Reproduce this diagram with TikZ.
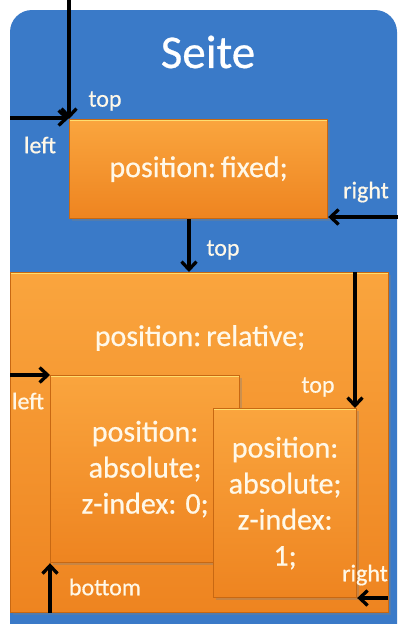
\documentclass[tikz,border=0pt]{standalone}
\usepackage{fontspec}
\setmainfont{Carlito}[FakeBold=0.6]
\usetikzlibrary{arrows.meta,shadows}
\definecolor{seiteblue}{RGB}{58,122,200}
\definecolor{orA}{RGB}{250,165,62}
\definecolor{orB}{RGB}{238,132,32}
\definecolor{orEdge}{RGB}{200,104,18}
\definecolor{orHl}{RGB}{255,222,110}
\definecolor{txt}{RGB}{255,248,232}
\tikzset{
  obox/.style={rectangle, anchor=north west, inner sep=0pt,
    top color=orA, bottom color=orB, draw=orEdge, line width=1.2pt,
    drop shadow={opacity=0.35, shadow xshift=2pt, shadow yshift=-2pt},
    text=txt, align=center, font=\fontsize{30}{36}\selectfont,
    path picture={\draw[orHl, line width=3.5pt]
      (path picture bounding box.north west) -- (path picture bounding box.north east);}},
  lbl/.style={text=txt, font=\fontsize{24}{26}\selectfont, inner sep=0pt},
  arr/.style={-{Straight Barb[length=8pt,width=15pt]}, line width=3.3pt, black},
}
\begin{document}
\begin{tikzpicture}[x=1pt,y=-1pt]
\useasboundingbox (0,0) rectangle (398,624);
\fill[white] (0,0) rectangle (398,624);
\begin{scope}
\clip (0,0) rectangle (398,624);
\fill[seiteblue, rounded corners=22pt] (10,10) rectangle (397,660);
\end{scope}
\node[text=white, font=\fontsize{47}{50}\selectfont, inner sep=0pt] (seite) at (208,52) {Seite};
% boxes
\node[obox, minimum width=258pt, minimum height=99pt] (fixed) at (69,119) {position:\,fixed;};
\node[obox, minimum width=378pt, minimum height=340pt] (rel) at (10,272) {};
\node[text=txt, font=\fontsize{30}{36}\selectfont, inner sep=0pt] (reltxt) at (200,338) {position:\,relative;};
\node[obox, minimum width=189pt, minimum height=187pt] (abs0) at (50,375) {position:\\absolute;\\z-index: 0;};
\node[obox, minimum width=143pt, minimum height=189pt] (abs1) at (213,408) {position:\\absolute;\\z-index:\\1;};
% free ends
\coordinate (t1s) at (69,0);
\coordinate (l1s) at (10,118);
\coordinate (r1s) at (398,217);
\coordinate (l2s) at (10,375);
\coordinate (t3s) at (355,272);
\coordinate (t3e) at (355,408);
\coordinate (b3s) at (50,613);
\coordinate (r3s) at (388,598);
% arrows
\draw[arr] (t1s) -- (fixed.north west);
\draw[arr] (l1s) -- (fixed.north west |- l1s);
\draw[arr] (r1s) -- (fixed.east |- r1s);
\draw[arr] (fixed.south -| 189,0) -- (rel.north -| 189,0);
\draw[arr] (l2s) -- (abs0.north west);
\draw[arr] (t3s) -- (t3e);
\draw[arr] (b3s) -- (abs0.south west);
\draw[arr] (r3s) -- (abs1.east |- r3s);
% labels
\node[lbl] (ltop1) at (105,101) {top};
\node[lbl] (lleft1) at (40,145) {left};
\node[lbl] (lright1) at (366,192) {right};
\node[lbl] (ltop2) at (223,250) {top};
\node[lbl] (lleft2) at (28,401) {left};
\node[lbl] (ltop3) at (318,387) {top};
\node[lbl] (lbottom) at (105,587) {bottom};
\node[lbl] (lright3) at (365,575) {right};
\end{tikzpicture}
\end{document}
